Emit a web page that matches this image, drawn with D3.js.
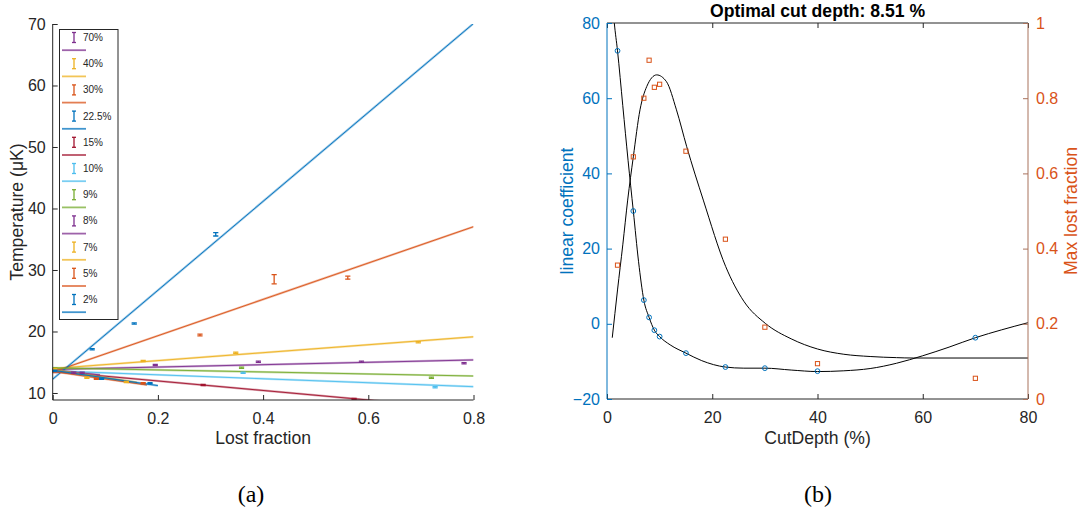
<!DOCTYPE html>
<html>
<head>
<meta charset="utf-8">
<script src="https://cdn.jsdelivr.net/npm/d3@7/dist/d3.min.js"></script>
<style>
  html, body { margin: 0; padding: 0; background: #fff; }
  svg { display: block; font-family: "Liberation Sans", Arial, Helvetica, sans-serif; }
</style>
</head>
<body>
<svg id="fig" width="1083" height="514"></svg>
<script>
// ---------- Panel (a): temperature vs lost fraction, one series per cut depth ----------
const cutLabels = ["70%", "40%", "30%", "22.5%", "15%", "10%", "9%", "8%", "7%", "5%", "2%"];
const cutColors = ["#7E2F8E", "#EDB120", "#D95319", "#0072BD", "#A2142F", "#4DBEEE", "#77AC30", "#7E2F8E", "#EDB120", "#D95319", "#0072BD"];

// measured points: lost fraction, temperature (µK), error
const lostX = [
  [0.004, 0.195, 0.391, 0.587, 0.782],
  [0.004, 0.172, 0.348, 0.695],
  [0.004, 0.280, 0.421, 0.561],
  [0.004, 0.075, 0.155, 0.310],
  [0.004, 0.286, 0.573],
  [0.004, 0.362, 0.727],
  [0.004, 0.359, 0.720],
  [0.004, 0.040, 0.056],
  [0.004, 0.065, 0.140],
  [0.004, 0.083, 0.172],
  [0.004, 0.093, 0.185]
];
const tempY = [
  [13.8, 14.55, 15.09, 15.09, 14.83],
  [13.9, 15.2, 16.55, 18.25],
  [13.6, 19.43, 28.5, 28.75],
  [13.5, 17.1, 21.3, 35.8],
  [13.4, 11.3, 9.0],
  [13.5, 13.3, 10.93],
  [14.0, 14.1, 12.49],
  [13.7, 13.3, 13.3],
  [13.9, 12.5, 11.8],
  [13.5, 12.3, 11.6],
  [13.6, 12.3, 11.6]
];
const tempErr = [
  [0.1, 0.1, 0.1, 0.1, 0.1],
  [0.1, 0.1, 0.1, 0.1],
  [0.1, 0.15, 0.75, 0.25],
  [0.1, 0.1, 0.1, 0.27],
  [0.1, 0.1, 0.1],
  [0.1, 0.1, 0.1],
  [0.1, 0.1, 0.1],
  [0.1, 0.1, 0.1],
  [0.1, 0.1, 0.1],
  [0.1, 0.1, 0.1],
  [0.1, 0.1, 0.1]
];
// linear fits T = intercept + slope * x over [0, fitEnd]
const fitIntercept = [13.83, 13.97, 13.4, 12.24, 13.5, 13.6, 14.08, 13.75, 13.8, 13.5, 13.7];
const fitSlope     = [1.93, 6.46, 29.55, 72.3, -7.73, -3.22, -1.65, -9.0, -13.0, -12.3, -12.5];
const fitEnd       = [0.8, 0.8, 0.8, 0.8, 0.8, 0.8, 0.8, 0.09, 0.16, 0.179, 0.2];

const lostTicks = [0, 0.2, 0.4, 0.6, 0.8];
const tempTicks = [10, 20, 30, 40, 50, 60, 70];

// ---------- Panel (b): linear coefficient and max lost fraction vs cut depth ----------
const cutDepth   = [2, 5, 7, 8, 9, 10, 15, 22.5, 30, 40, 70];
const linearCoef = [72.6, 30, 6.3, 1.7, -1.7, -3.4, -7.8, -11.5, -11.8, -12.6, -3.7];
const maxLost    = [0.356, 0.644, 0.800, 0.901, 0.829, 0.837, 0.659, 0.425, 0.191, 0.094, 0.055];

// smoothed curves through each set
const coefCurveX = [1.2, 1.39, 2, 3, 4, 5, 6, 7, 8, 9, 10, 12, 15, 18, 22.5, 26, 30, 35, 40, 45, 50, 55, 60, 65, 70, 75, 80];
const coefCurveY = [83, 80, 72.6, 58, 43.5, 30, 16.5, 6.3, 1.7, -1.7, -3.4, -5.6, -7.8, -9.8, -11.5, -11.8, -11.8, -12.3, -12.7, -12.5, -11.9, -10.5, -8.5, -6.2, -3.7, -1.6, 0.3];
const lostCurveX = [1, 2, 3, 3.93, 5, 6.27, 7.55, 9.44, 11.3, 13.2, 15.15, 18.3, 22.56, 26, 30.1, 35, 40, 45, 50, 55, 58.2, 80];
const lostCurveY = [0.163, 0.29, 0.41, 0.529, 0.644, 0.769, 0.831, 0.862, 0.844, 0.769, 0.671, 0.529, 0.352, 0.26, 0.201, 0.16, 0.133, 0.119, 0.113, 0.110, 0.109, 0.109];

const depthTicks = [0, 20, 40, 60, 80];
const coefTicks = [-20, 0, 20, 40, 60, 80];
const lostTicksR = [0, 0.2, 0.4, 0.6, 0.8, 1];
const lostTickText = ["0", "0.2", "0.4", "0.6", "0.8", "1"];

const svg = d3.select("#fig");
const ink = "#262626";
const blue = "#0072BD", orange = "#D95319";
const tickFont = "16px", labelFont = "17.6px";

// ===== Panel (a) =====
const A = { left: 52.7, right: 473.5, top: 24, bottom: 400 };
const xA = d3.scaleLinear().domain([0, 0.8]).range([A.left, A.right]);
const yA = d3.scaleLinear().domain([8.86, 70]).range([A.bottom, A.top]);

svg.append("clipPath").attr("id", "clipA")
  .append("rect").attr("x", A.left).attr("y", A.top).attr("width", A.right - A.left).attr("height", A.bottom - A.top);

const gA = svg.append("g");
const plotA = gA.append("g").attr("clip-path", "url(#clipA)");

// fit lines (soft wide stroke under a thin solid one)
cutLabels.forEach((lab, i) => {
  const seg = [[0, fitIntercept[i]], [fitEnd[i], fitIntercept[i] + fitSlope[i] * fitEnd[i]]];
  const line = d3.line().x(d => xA(d[0])).y(d => yA(d[1]));
  plotA.append("path").attr("d", line(seg)).attr("fill", "none")
    .attr("stroke", cutColors[i]).attr("stroke-width", 2.2).attr("stroke-opacity", 0.4);
  plotA.append("path").attr("d", line(seg)).attr("fill", "none")
    .attr("stroke", cutColors[i]).attr("stroke-width", 0.9);
});

// error bars
function errorBar(g, cx, cy0, cy1, color, cap) {
  g.append("line").attr("x1", cx).attr("x2", cx).attr("y1", cy0).attr("y2", cy1)
    .attr("stroke", color).attr("stroke-width", 1.3);
  [cy0, cy1].forEach(cy => g.append("line")
    .attr("x1", cx - cap).attr("x2", cx + cap).attr("y1", cy).attr("y2", cy)
    .attr("stroke", color).attr("stroke-width", 1.3));
}
cutLabels.forEach((lab, i) => {
  lostX[i].forEach((x, j) => {
    errorBar(plotA, xA(x), yA(tempY[i][j] - tempErr[i][j]), yA(tempY[i][j] + tempErr[i][j]), cutColors[i], 2.6);
  });
});

// axes (inward ticks, no box)
const axA_x = gA.append("g").attr("transform", `translate(0,${A.bottom})`)
  .call(d3.axisBottom(xA).tickValues(lostTicks).tickSize(-5).tickPadding(13).tickFormat(d => d === 0 ? "0" : d3.format(".1f")(d)));
const axA_y = gA.append("g").attr("transform", `translate(${A.left},0)`)
  .call(d3.axisLeft(yA).tickValues(tempTicks).tickSize(-5).tickPadding(7));
[axA_x, axA_y].forEach(ax => {
  ax.select(".domain").attr("stroke", ink).attr("stroke-width", 1);
  ax.selectAll(".tick line").attr("stroke", ink);
  ax.selectAll(".tick text").attr("fill", ink).style("font-size", tickFont).style("font-family", "Liberation Sans, Arial, sans-serif");
});
axA_x.select(".domain").attr("d", `M${A.left},0H${A.right}`);
axA_y.select(".domain").attr("d", `M0,${A.bottom}V${A.top}`);

gA.append("text").attr("x", (A.left + A.right) / 2).attr("y", 444).attr("text-anchor", "middle")
  .attr("fill", ink).style("font-size", labelFont).text("Lost fraction");
gA.append("text").attr("transform", `translate(23,${(A.top + A.bottom) / 2}) rotate(-90)`)
  .attr("text-anchor", "middle").attr("fill", ink).style("font-size", labelFont).text("Temperature (μK)");

// legend
const leg = gA.append("g");
leg.append("rect").attr("x", 59.5).attr("y", 29.5).attr("width", 58.5).attr("height", 290)
  .attr("fill", "#fff").attr("stroke", ink).attr("stroke-width", 1);
cutLabels.forEach((lab, i) => {
  const cy = 37.5 + i * 26.2;
  errorBar(leg, 74, cy - 5, cy + 5, cutColors[i], 2);
  leg.append("text").attr("x", 83).attr("y", cy + 3.5).attr("fill", ink).style("font-size", "10px").text(lab);
  leg.append("line").attr("x1", 62).attr("x2", 86).attr("y1", cy + 12.7).attr("y2", cy + 12.7)
    .attr("stroke", cutColors[i]).attr("stroke-width", 1.8).attr("stroke-opacity", 0.75);
});

// ===== Panel (b) =====
const B = { left: 607, right: 1028, top: 23, bottom: 399 };
const xB = d3.scaleLinear().domain([0, 80]).range([B.left, B.right]);
const yBl = d3.scaleLinear().domain([-20, 80]).range([B.bottom, B.top]);
const yBr = d3.scaleLinear().domain([0, 1]).range([B.bottom, B.top]);

svg.append("clipPath").attr("id", "clipB")
  .append("rect").attr("x", B.left).attr("y", B.top).attr("width", B.right - B.left).attr("height", B.bottom - B.top);

const gB = svg.append("g");
const plotB = gB.append("g").attr("clip-path", "url(#clipB)");

const coefLine = d3.line().curve(d3.curveMonotoneX).x(d => xB(d[0])).y(d => yBl(d[1]));
plotB.append("path").attr("d", coefLine(coefCurveX.map((x, i) => [x, coefCurveY[i]])))
  .attr("fill", "none").attr("stroke", "#000").attr("stroke-width", 1);
const lostLine = d3.line().curve(d3.curveMonotoneX).x(d => xB(d[0])).y(d => yBr(d[1]));
plotB.append("path").attr("d", lostLine(lostCurveX.map((x, i) => [x, lostCurveY[i]])))
  .attr("fill", "none").attr("stroke", "#000").attr("stroke-width", 1);

plotB.selectAll("circle.coef").data(cutDepth).join("circle").attr("class", "coef")
  .attr("cx", d => xB(d)).attr("cy", (d, i) => yBl(linearCoef[i])).attr("r", 2.4)
  .attr("fill", "none").attr("stroke", blue).attr("stroke-width", 1);
plotB.selectAll("rect.lost").data(cutDepth).join("rect").attr("class", "lost")
  .attr("x", d => xB(d) - 2.1).attr("y", (d, i) => yBr(maxLost[i]) - 2.1).attr("width", 4.2).attr("height", 4.2)
  .attr("fill", "none").attr("stroke", orange).attr("stroke-width", 1);

// box: top edge with ticks
const axB_top = gB.append("g").attr("transform", `translate(0,${B.top})`)
  .call(d3.axisTop(xB).tickValues(depthTicks).tickSize(-5).tickFormat(""));
const axB_x = gB.append("g").attr("transform", `translate(0,${B.bottom})`)
  .call(d3.axisBottom(xB).tickValues(depthTicks).tickSize(-5).tickPadding(13));
[axB_top, axB_x].forEach(ax => {
  ax.select(".domain").attr("stroke", ink).attr("d", `M${B.left},0H${B.right}`);
  ax.selectAll(".tick line").attr("stroke", ink);
  ax.selectAll(".tick text").attr("fill", ink).style("font-size", tickFont).style("font-family", "Liberation Sans, Arial, sans-serif");
});
const axB_l = gB.append("g").attr("transform", `translate(${B.left},0)`)
  .call(d3.axisLeft(yBl).tickValues(coefTicks).tickSize(-5).tickPadding(7));
axB_l.select(".domain").attr("stroke", blue).attr("d", `M0,${B.bottom}V${B.top}`);
axB_l.selectAll(".tick line").attr("stroke", blue);
axB_l.selectAll(".tick text").attr("fill", blue).style("font-size", tickFont).style("font-family", "Liberation Sans, Arial, sans-serif");

const axB_r = gB.append("g").attr("transform", `translate(${B.right},0)`)
  .call(d3.axisRight(yBr).tickValues(lostTicksR).tickSize(-5).tickPadding(8).tickFormat((d, i) => lostTickText[i]));
axB_r.select(".domain").attr("stroke", "#A8725C").attr("d", `M0,${B.bottom}V${B.top}`);
axB_r.selectAll(".tick line").attr("stroke", "#A8725C");
axB_r.selectAll(".tick text").attr("fill", orange).style("font-size", tickFont).style("font-family", "Liberation Sans, Arial, sans-serif");

gB.append("text").attr("x", (B.left + B.right) / 2).attr("y", 17).attr("text-anchor", "middle")
  .attr("fill", "#000").style("font-size", "17.6px").style("font-weight", "bold").text("Optimal cut depth: 8.51 %");
gB.append("text").attr("x", (B.left + B.right) / 2).attr("y", 444).attr("text-anchor", "middle")
  .attr("fill", ink).style("font-size", labelFont).text("CutDepth (%)");
gB.append("text").attr("transform", `translate(573,${(B.top + B.bottom) / 2}) rotate(-90)`)
  .attr("text-anchor", "middle").attr("fill", blue).style("font-size", labelFont).text("linear coefficient");
gB.append("text").attr("transform", `translate(1077,${(B.top + B.bottom) / 2}) rotate(-90)`)
  .attr("text-anchor", "middle").attr("fill", orange).style("font-size", labelFont).text("Max lost fraction");

// panel captions
svg.append("text").attr("x", 251).attr("y", 502).attr("text-anchor", "middle")
  .style("font-family", "Liberation Serif, DejaVu Serif, serif").style("font-size", "24px").attr("fill", "#000").text("(a)");
svg.append("text").attr("x", 818).attr("y", 502).attr("text-anchor", "middle")
  .style("font-family", "Liberation Serif, DejaVu Serif, serif").style("font-size", "24px").attr("fill", "#000").text("(b)");
</script>
</body>
</html>
